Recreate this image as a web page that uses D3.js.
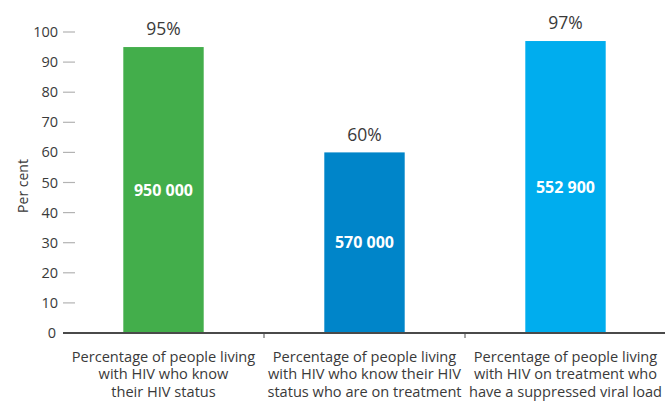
<!DOCTYPE html>
<html><head><meta charset="utf-8">
<script src="https://cdn.jsdelivr.net/npm/d3@7"></script>
<style>body{margin:0;background:#fff;}svg{display:block;font-family:"Open Sans",Lato,sans-serif;}</style>
</head><body>
<svg id="c" width="665" height="401"></svg>
<script>
const categories = [
  ["Percentage of people living","with HIV who know","their HIV status"],
  ["Percentage of people living","with HIV who know their HIV","status who are on treatment"],
  ["Percentage of people living","with HIV on treatment who","have a suppressed viral load"]
];
const percentValues = [95, 60, 97];
const countLabels = ["950 000", "570 000", "552 900"];
const barColors = ["#43ae4b", "#0085c9", "#00adee"];
const yTicks = [0,10,20,30,40,50,60,70,80,90,100];

const svg = d3.select("#c");
const mLeft = 63, mRight = 666, mTop = 32, mBottom = 333;
const x = d3.scaleBand().domain(d3.range(categories.length)).range([mLeft, mRight]).padding(0);
const y = d3.scaleLinear().domain([0,100]).range([mBottom, mTop]);
const bw = x.bandwidth() * 0.4;

// y ticks
const yg = svg.append("g");
yTicks.forEach(t => {
  if (t > 0) yg.append("line").attr("x1", mLeft).attr("x2", mLeft+12).attr("y1", y(t)).attr("y2", y(t)).attr("stroke", "#b3b3b3").attr("stroke-width", 1.2);
  yg.append("text").attr("x", t===0 ? 56 : 58).attr("y", y(t)).attr("dy", "0.35em").attr("text-anchor", "end")
    .attr("font-size", 14.5).attr("fill", "#3a3a3a").text(t);
});
svg.append("text").attr("transform", `translate(28,186) rotate(-90)`).attr("text-anchor","middle")
  .attr("font-size", 14).attr("fill","#3a3a3a").text("Per cent");

// bars
categories.forEach((c,i) => {
  const cx = x(i) + x.bandwidth()/2;
  svg.append("rect").attr("x", cx - bw/2).attr("y", y(percentValues[i])).attr("width", bw)
    .attr("height", mBottom - y(percentValues[i])).attr("fill", barColors[i]);
  svg.append("text").attr("x", cx).attr("y", y(percentValues[i]) - 18).attr("dy","0.35em").attr("text-anchor","middle")
    .attr("font-size", 17.5).attr("fill","#3a3a3a").text(percentValues[i] + "%");
  svg.append("text").attr("x", cx).attr("y", (y(percentValues[i]) + mBottom)/2).attr("dy","0.35em").attr("text-anchor","middle")
    .attr("font-size", 16).attr("font-weight","bold").attr("fill","#fff").text(countLabels[i]);
  const t = svg.append("text").attr("text-anchor","middle").attr("font-size", 14.6).attr("fill","#3a3a3a");
  c.forEach((line,j) => t.append("tspan").attr("x", cx).attr("y", 356.5 + j*17.7).attr("dy","0.35em").text(line));
});

// baseline and category separators
svg.append("line").attr("x1", mLeft).attr("x2", mRight).attr("y1", mBottom).attr("y2", mBottom).attr("stroke","#4a4a4a").attr("stroke-width",2);
for (let i = 1; i < categories.length; i++) {
  svg.append("line").attr("x1", x(i)).attr("x2", x(i)).attr("y1", mBottom).attr("y2", mBottom+5).attr("stroke","#4a4a4a").attr("stroke-width",1);
}
</script>
</body></html>
